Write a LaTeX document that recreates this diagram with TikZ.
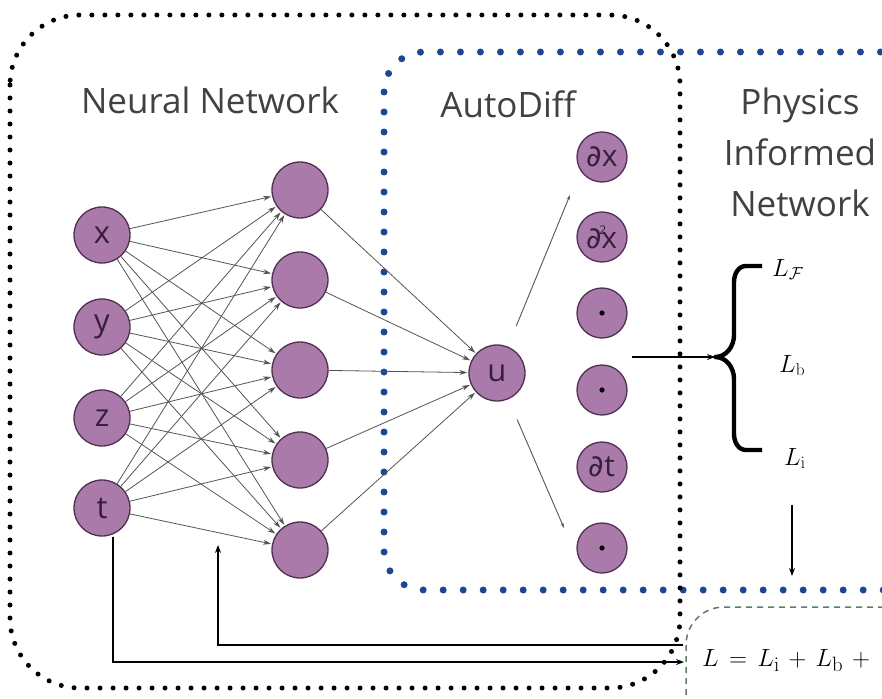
\documentclass[tikz,border=0pt]{standalone}
\usepackage[no-math]{fontspec}
\setmainfont{Open Sans}
\newfontfamily\dejavu{DejaVu Sans}
\usetikzlibrary{arrows.meta,calc}
\definecolor{nfill}{RGB}{170,122,170}
\definecolor{ndraw}{RGB}{80,48,80}
\definecolor{ntext}{RGB}{55,30,60}
\definecolor{ttext}{RGB}{65,65,65}
\definecolor{agray}{RGB}{85,85,85}
\definecolor{bdots}{RGB}{28,70,150}
\definecolor{gdash}{RGB}{95,125,95}
\tikzset{
  neuron/.style={circle,draw=ndraw,line width=1.3pt,fill=nfill,minimum size=56pt,inner sep=0pt,
    text=ntext,font=\fontsize{31}{31}\selectfont},
  dnode/.style={circle,draw=ndraw,line width=1.3pt,fill=nfill,minimum size=50pt,inner sep=0pt,
    text=ntext,font=\fontsize{30}{30}\selectfont},
  dotnode/.style={dnode,path picture={\fill[black] (path picture bounding box.center) circle (2.6pt);}},
  title/.style={text=ttext,font=\fontsize{35}{40}\selectfont,inner sep=0pt},
  syn/.style={draw=agray,line width=0.8pt,-{Stealth[length=8pt,width=5pt]},shorten >=1pt},
  blk/.style={draw=black,line width=1.1pt},
  blackdots/.style={draw=black,line width=5pt,line cap=round,dash pattern=on 0pt off 13pt},
  bluedots/.style={draw=bdots,line width=7pt,line cap=round,dash pattern=on 0pt off 20pt},
  greendash/.style={draw=gdash,line width=1.5pt,dash pattern=on 6pt off 5pt},
  mathlbl/.style={inner sep=0pt,anchor=base west,font=\fontsize{26}{26}\selectfont},
}
\begin{document}
\begin{tikzpicture}[x=1pt,y=-1pt]
\useasboundingbox (0,0) rectangle (882,698);
\clip (0,0) rectangle (882,698);
\fill[white] (0,0) rectangle (882,698);

% boxes
\draw[bluedots,rounded corners=40pt] (384,52) rectangle (960,590);
\draw[blackdots,rounded corners=70pt] (10,15) rectangle (680,688);
\draw[greendash,rounded corners=38pt] (686,607) rectangle (960,745);

% titles
\node[title] (tnn) at (210,100) {Neural Network};
\node[title] (tad) at (508,104) {AutoDiff};
\node[title,align=center] (tpin) at (800,152) {Physics\\[11pt]Informed\\[11pt]Network};

% input nodes
\node[neuron] (i1) at (102,235) {x};
\node[neuron] (i2) at (102,327) {y};
\node[neuron] (i3) at (102,418) {z};
\node[neuron] (i4) at (102,508) {t};

% hidden nodes
\node[neuron] (h1) at (300,190) {};
\node[neuron] (h2) at (300,280) {};
\node[neuron] (h3) at (300,370) {};
\node[neuron] (h4) at (300,460) {};
\node[neuron] (h5) at (300,550) {};

% output
\node[neuron] (u) at (497,373) {u};

% derivative nodes
\node[dnode] (d1) at (602,157) {{\dejavu ∂}x};
\node[dnode] (d2) at (602,237) {{\dejavu ∂}\kern-3pt\raisebox{14pt}{\fontsize{12}{12}\selectfont 2}\kern-5pt x};
\node[dotnode] (d3) at (602,313) {};
\node[dotnode] (d4) at (602,390) {};
\node[dnode] (d5) at (602,467) {{\dejavu ∂}t};
\node[dotnode] (d6) at (602,548) {};

% synapses input -> hidden
\foreach \i in {1,...,4}{
  \foreach \h in {1,...,5}{
    \draw[syn] (i\i) -- (h\h);
  }
}
% hidden -> u
\foreach \h in {1,...,5}{
  \draw[syn] (h\h) -- (u);
}

% u -> derivative column
\coordinate (uo1) at (570,195);
\coordinate (uo2) at (564,528);
\draw[draw=agray,line width=0.9pt,-{Stealth[length=5pt,width=3pt]},shorten <=22pt] (u) -- (uo1);
\draw[draw=agray,line width=0.9pt,-{Stealth[length=5pt,width=3pt]},shorten <=22pt] (u) -- (uo2);

% brace
\coordinate (btip) at (715,357);
\draw[line width=4.4pt,line cap=butt,line join=round]
  (762,266) -- (746,266) to[out=180,in=90] (734,282) -- (734,335)
  to[out=-90,in=0] (btip) to[out=0,in=90] (734,379) -- (734,434)
  to[out=-90,in=180] (746,450) -- (762,450);
\coordinate (bin) at (632,357);
\draw[blk,-{Stealth[length=8pt,width=6pt]}] (bin) -- (btip);

% loss labels
\node[mathlbl] (lf) at (772,276) {$L_{\mathcal{F}}$};
\node[mathlbl] (lb) at (779,372) {$L_{\mathrm{b}}$};
\node[mathlbl] (li) at (784,465) {$L_{\mathrm{i}}$};

\coordinate (ldown) at (792,576);
\draw[blk,-{Stealth[length=8pt,width=6pt]},shorten <=36pt] (li.south -| ldown) -- (ldown);

% total loss
\node[mathlbl,font=\fontsize{29}{29}\selectfont] (ltot) at (702,666)
  {\thickmuskip=7.5mu \medmuskip=6.5mu $L = L_{\mathrm{i}} + L_{\mathrm{b}} +{}$};

% feedback lines
\coordinate (fbs) at (683,645);
\coordinate (fbe) at (218,545);
\draw[blk,-{Stealth[length=8pt,width=6pt]}] (fbs) -| (fbe);
\coordinate (fbt) at (684,662);
\draw[blk,-{Stealth[length=8pt,width=6pt]}] ([xshift=11pt]i4.south) |- (fbt);

\end{tikzpicture}
\end{document}
